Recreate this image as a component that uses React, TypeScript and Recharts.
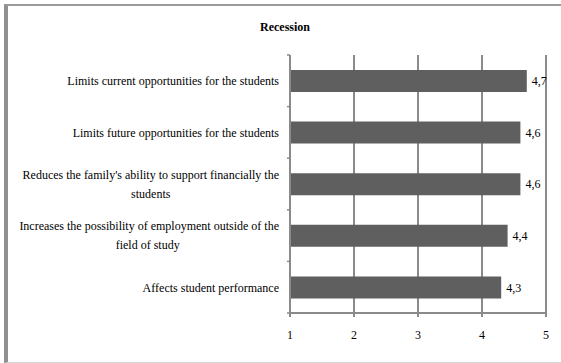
import { BarChart, Bar, XAxis, YAxis, CartesianGrid, LabelList } from "recharts";

const categories = [
  "Limits current opportunities for the students",
  "Limits future opportunities for the students",
  "Reduces the family's ability to support financially the\nstudents",
  "Increases the possibility  of employment outside of the\nfield of study",
  "Affects student performance",
];
const scores = [4.7, 4.6, 4.6, 4.4, 4.3];
const xTicks = [1, 2, 3, 4, 5];

const data = categories.map((label, i) => ({ label, score: scores[i] }));

const W = 561;
const H = 363;
const MARGIN = { top: 55, right: 15, bottom: 20, left: 0 };
const Y_AXIS_W = 290;
const X_AXIS_H = 30;
const PLOT_H = H - MARGIN.top - MARGIN.bottom - X_AXIS_H;
const FONT = "'Liberation Serif', 'Times New Roman', serif";
const GRID = "#8a8a8a";
const LINE_GAP = 19;

let ctx: CanvasRenderingContext2D | null = null;
function textWidth(s: string) {
  if (!ctx) ctx = document.createElement("canvas").getContext("2d");
  if (!ctx) return s.length * 5;
  ctx.font = `12px ${FONT}`;
  return ctx.measureText(s).width;
}

function CategoryTick(props: any) {
  const { x, y, payload, index } = props;
  const axisX = x + 11;
  const band = PLOT_H / categories.length;
  const lines: string[] = String(payload.value).split("\n");
  const w0 = textWidth(lines[0]);
  return (
    <g>
      <line x1={axisX - 3} x2={axisX} y1={y - band / 2} y2={y - band / 2} stroke={GRID} strokeWidth={1.5} />
      {index === categories.length - 1 && (
        <line x1={axisX - 3} x2={axisX} y1={y + band / 2} y2={y + band / 2} stroke={GRID} strokeWidth={1.5} />
      )}
      {lines.map((ln, i) => (
        <text
          key={i}
          x={i === 0 ? x : x - w0 / 2}
          y={y + (i - (lines.length - 1) / 2) * LINE_GAP}
          dy="0.36em"
          textAnchor={i === 0 ? "end" : "middle"}
          fontFamily={FONT}
          fontSize={12}
          fill="#000"
        >
          {ln}
        </text>
      ))}
    </g>
  );
}

export default function App() {
  return (
    <div style={{ position: "absolute", left: 0, top: 0, width: W, height: H, background: "#fff" }}>
      <div
        style={{
          position: "absolute",
          left: 4,
          top: 4,
          width: W - 4,
          height: H - 4,
          boxSizing: "border-box",
          borderLeft: "4px solid #909090",
          borderTop: "2px solid #9a9a9a",
          borderBottom: "1px solid #d6d6d6",
        }}
      />
      <div
        style={{
          position: "absolute",
          left: 0,
          width: 570,
          top: 20,
          textAlign: "center",
          fontFamily: FONT,
          fontWeight: "bold",
          fontSize: 12,
        }}
      >
        Recession
      </div>
      <div style={{ position: "absolute", left: 0, top: 0 }}>
        <BarChart width={W} height={H} data={data} layout="vertical" margin={MARGIN}>
          <CartesianGrid horizontal={false} stroke={GRID} strokeWidth={2} />
          <XAxis
            type="number"
            domain={[1, 5]}
            ticks={xTicks}
            height={X_AXIS_H}
            stroke={GRID}
            strokeWidth={2}
            tickSize={4}
            tickMargin={13}
            tick={{ fill: "#000", fontSize: 12, fontFamily: FONT }}
          />
          <YAxis
            type="category"
            dataKey="label"
            width={Y_AXIS_W}
            stroke={GRID}
            strokeWidth={2}
            tickLine={false}
            tickSize={3}
            tickMargin={8}
            interval={0}
            tick={<CategoryTick />}
          />
          <Bar dataKey="score" fill="#5f5f5f" barSize={22} isAnimationActive={false}>
            <LabelList
              dataKey="score"
              position="right"
              offset={5}
              formatter={(v: any) => String(v).replace(".", ",")}
              style={{ fill: "#000", fontSize: 12, fontFamily: FONT }}
            />
          </Bar>
        </BarChart>
      </div>
    </div>
  );
}
